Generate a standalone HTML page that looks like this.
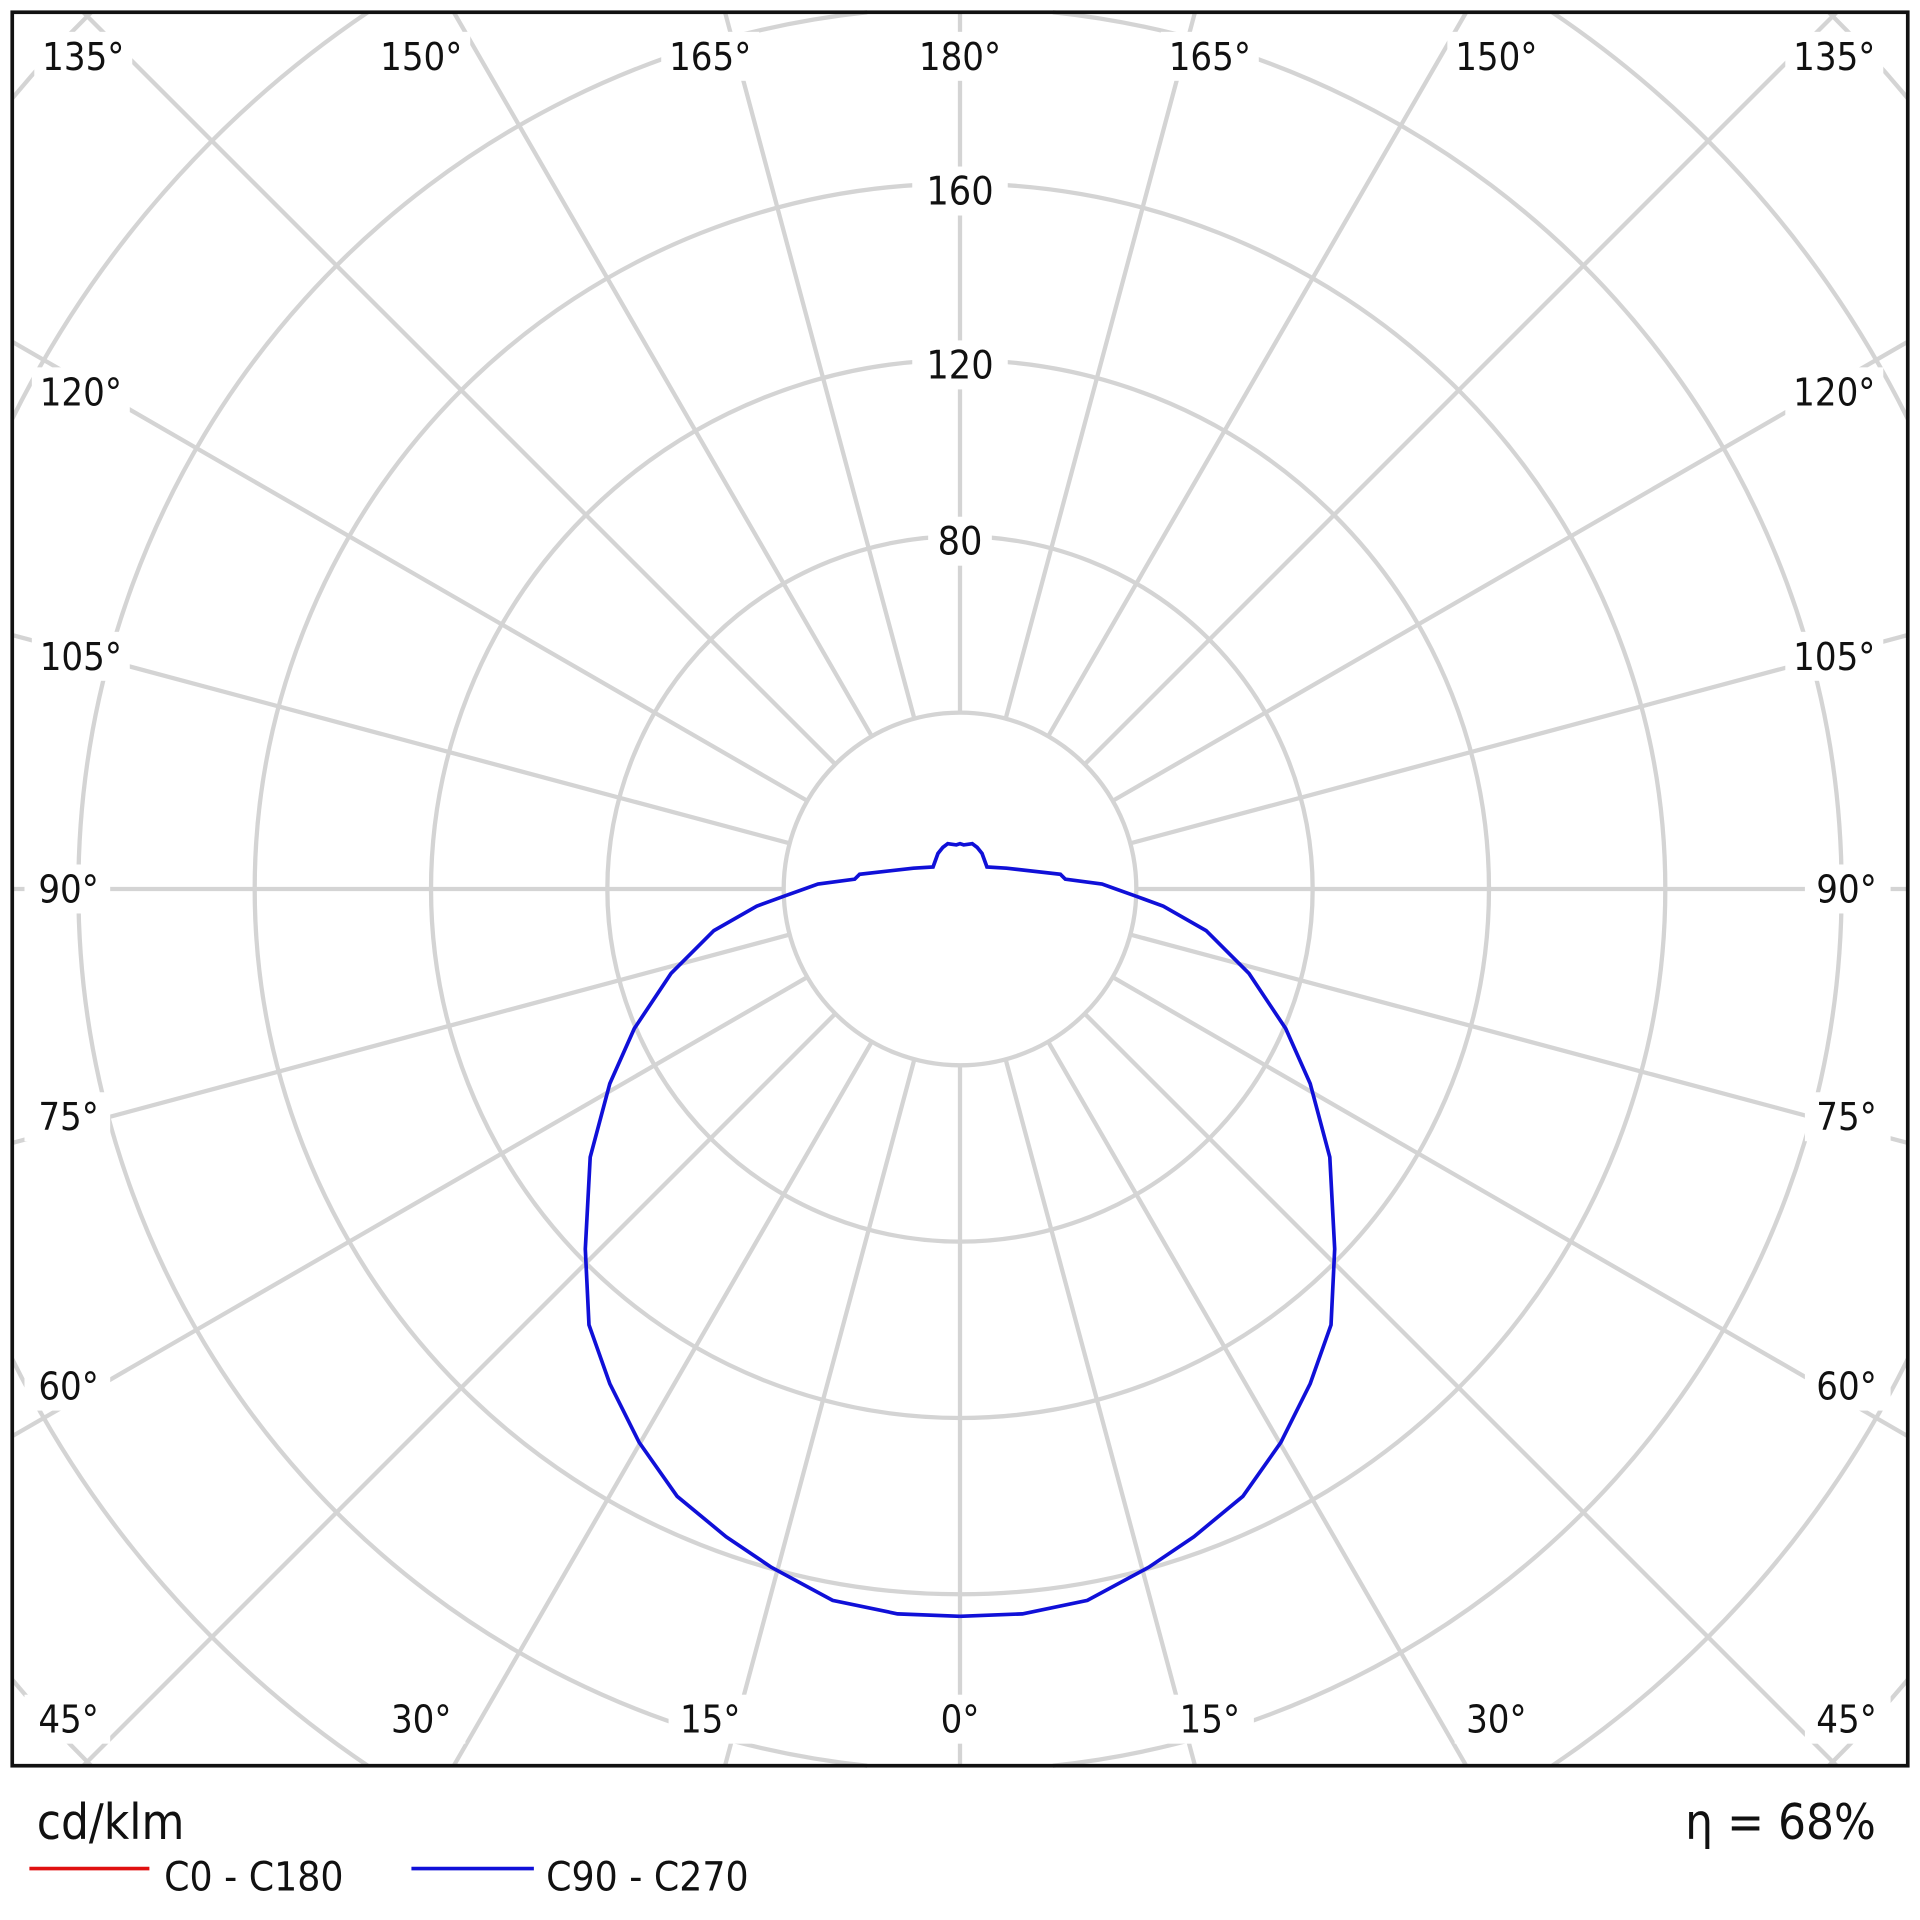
<!DOCTYPE html>
<html><head><meta charset="utf-8"><style>
html,body{margin:0;padding:0;background:#fff;width:1920px;height:1920px;overflow:hidden;position:relative;}
svg{display:block;position:absolute;left:0;top:0;}
text{font-family:"DejaVu Sans Condensed","Liberation Sans",sans-serif;fill:#111;}
</style></head><body><svg width="1920" height="1920" viewBox="0 0 1568 1568" xmlns="http://www.w3.org/2000/svg">
<rect width="1568" height="1568" fill="#fff"/>
<g stroke="#d4d4d4" stroke-width="3.5" fill="none">
<circle cx="784" cy="726" r="144"/>
<circle cx="784" cy="726" r="288"/>
<circle cx="784" cy="726" r="432"/>
<circle cx="784" cy="726" r="576"/>
<path d="M859.8,1442 A720,720 0 0 0 859.8,10 M708.2,10 A720,720 0 0 0 708.2,1442"/>
<path d="M1267.6,1442 A864,864 0 0 0 1558,1109.9 M1558,342.1 A864,864 0 0 0 1267.6,10 M300.4,10 A864,864 0 0 0 10,342.1 M10,1109.9 A864,864 0 0 0 300.4,1442"/>
<path d="M1493.5,1442 A1008,1008 0 0 0 1558,1371.7 M1558,80.3 A1008,1008 0 0 0 1493.5,10 M74.5,10 A1008,1008 0 0 0 10,80.3 M10,1371.7 A1008,1008 0 0 0 74.5,1442"/>
<path d="
M784,870 L784,1442 M784,582 L784,10
M821.27,865.09 L975.9,1442 M746.73,865.09 L592.1,1442 M821.27,586.91 L975.9,10 M746.73,586.91 L592.1,10
M856,850.71 L1197.4,1442 M712,850.71 L370.6,1442 M856,601.29 L1197.4,10 M712,601.29 L370.6,10
M885.82,827.82 L1500,1442 M682.18,827.82 L68,1442 M885.82,624.18 L1500,10 M682.18,624.18 L68,10
M908.71,798 L1558,1172.9 M659.29,798 L10,1172.9 M908.71,654 L1558,279.1 M659.29,654 L10,279.1
M923.09,763.27 L1558,933.4 M644.91,763.27 L10,933.4 M923.09,688.73 L1558,518.6 M644.91,688.73 L10,518.6
M928,726 L1558,726 M640,726 L10,726"/>
</g>
<g fill="#fff">
<rect x="745" y="136" width="78" height="40"/>
<rect x="745" y="278" width="78" height="40"/>
<rect x="758" y="422" width="52" height="40"/>
</g>
<g font-size="32" text-anchor="middle">
<text x="784" y="167">160</text>
<text x="784" y="309">120</text>
<text x="784" y="453">80</text>
</g>
<g font-size="31" text-anchor="middle">
<g fill="#fff" stroke="none">
<rect x="28" y="26" width="80" height="40"/><rect x="304" y="26" width="80" height="40"/><rect x="540" y="26" width="80" height="40"/><rect x="744" y="26" width="80" height="40"/><rect x="948" y="26" width="80" height="40"/><rect x="1182" y="26" width="80" height="40"/><rect x="1458" y="26" width="80" height="40"/>
<rect x="26" y="300" width="80" height="40"/><rect x="26" y="516" width="80" height="40"/><rect x="20" y="706" width="70" height="40"/><rect x="20" y="892" width="70" height="40"/><rect x="20" y="1112" width="70" height="40"/><rect x="20" y="1384" width="70" height="40"/>
<rect x="1458" y="300" width="80" height="40"/><rect x="1458" y="516" width="80" height="40"/><rect x="1474" y="706" width="70" height="40"/><rect x="1474" y="892" width="70" height="40"/><rect x="1474" y="1112" width="70" height="40"/><rect x="1474" y="1384" width="70" height="40"/>
<rect x="310" y="1384" width="70" height="40"/><rect x="546" y="1384" width="70" height="40"/><rect x="754" y="1384" width="60" height="40"/><rect x="954" y="1384" width="70" height="40"/><rect x="1188" y="1384" width="70" height="40"/>
</g>
<text x="68" y="57">135°</text><text x="344" y="57">150°</text><text x="580" y="57">165°</text><text x="784" y="57">180°</text><text x="988" y="57">165°</text><text x="1222" y="57">150°</text><text x="1498" y="57">135°</text>
<text x="66" y="331">120°</text><text x="66" y="547">105°</text><text x="56" y="737">90°</text><text x="56" y="923">75°</text><text x="56" y="1143">60°</text><text x="56" y="1415">45°</text>
<text x="1498" y="331">120°</text><text x="1498" y="547">105°</text><text x="1508" y="737">90°</text><text x="1508" y="923">75°</text><text x="1508" y="1143">60°</text><text x="1508" y="1415">45°</text>
<text x="344" y="1415">30°</text><text x="580" y="1415">15°</text><text x="784" y="1415">0°</text><text x="988" y="1415">15°</text><text x="1222" y="1415">30°</text>
</g>
<polyline fill="none" stroke="#1010d8" stroke-width="3" points="784,1320 835,1318 888,1307 938,1280 975,1255 1015,1222 1046,1178 1070,1130 1087,1082 1090,1020 1086,945 1070,885 1050,840 1020,795 985,760 950,740 928,732 900,722 870,718 866,714 822,709 806,708 802,697 798,692 794,689 787,690 784,689 781,690 774,689 770,692 766,697 762,708 746,709 702,714 698,718 668,722 640,732 618,740 583,760 548,795 518,840 498,885 482,945 478,1020 481,1082 498,1130 522,1178 553,1222 593,1255 630,1280 680,1307 733,1318 784,1320"/>
<rect x="10" y="10" width="1548" height="1432" fill="none" stroke="#111" stroke-width="3"/>
<text x="30" y="1502" font-size="40">cd/klm</text>
<text x="1532" y="1502" font-size="40" text-anchor="end">η = 68%</text>
<line x1="24" y1="1526" x2="122" y2="1526" stroke="#e01010" stroke-width="3"/>
<text x="134" y="1544" font-size="33">C0 - C180</text>
<line x1="336" y1="1526" x2="436" y2="1526" stroke="#1010d8" stroke-width="3"/>
<text x="446" y="1544" font-size="33">C90 - C270</text>
</svg></body></html>
